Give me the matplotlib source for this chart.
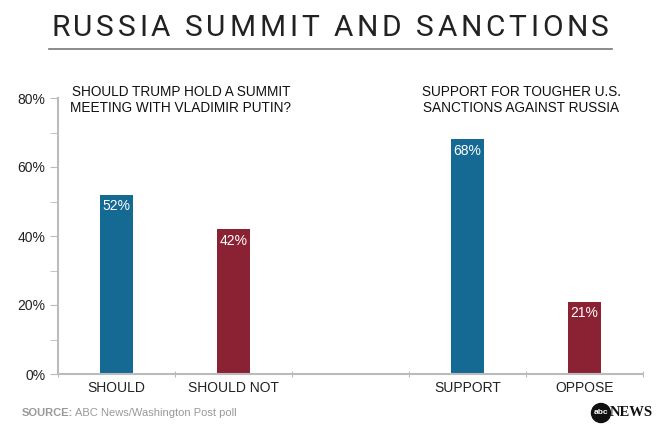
import matplotlib.pyplot as plt
from matplotlib.patches import Ellipse

# data
categories = ["SHOULD", "SHOULD NOT", "", "SUPPORT", "OPPOSE"]
values = [52, 42, None, 68, 21]
bar_colors = ["#156a94", "#8a2234", None, "#156a94", "#8a2234"]
yticks = [0, 20, 40, 60, 80]
ytick_labels = ["0%", "20%", "40%", "60%", "80%"]

title = "RUSSIA SUMMIT AND SANCTIONS"
left_note = "SHOULD TRUMP HOLD A SUMMIT\nMEETING WITH VLADIMIR PUTIN?"
right_note = "SUPPORT FOR TOUGHER U.S.\nSANCTIONS AGAINST RUSSIA"

plt.rcParams["font.family"] = ["Liberation Sans", "DejaVu Sans"]

fig = plt.figure(figsize=(6.6, 4.34), dpi=100)
ax = fig.add_axes([58 / 660, 1 - 374 / 434, (643 - 58) / 660, (374 - 98) / 434])

xs = [i for i, v in enumerate(values) if v is not None]
vals = [values[i] for i in xs]
cols = [bar_colors[i] for i in xs]
bars = ax.bar(xs, vals, width=0.28, color=cols, zorder=2)
for x, v in zip(xs, vals):
    ax.text(x, v - 1.4, f"{v}%", ha="center", va="top", color="white", fontsize=10)

ax.set_xlim(-0.5, len(categories) - 0.5)
ax.set_ylim(0, 80)
ax.set_xticks(range(len(categories)))
ax.set_xticklabels(categories, fontsize=10, color="#222222")
ax.set_xticks([i - 0.5 for i in range(len(categories) + 1)], minor=True)
ax.tick_params(axis="x", which="major", length=0, pad=5)
ax.tick_params(axis="x", which="minor", length=5, direction="inout", color="#aaaaaa")

ax.set_yticks(yticks)
ax.set_yticklabels(ytick_labels, fontsize=10, color="#222222")
ax.set_yticks(range(10, 80, 20), minor=True)
ax.tick_params(axis="y", which="both", length=6, color="#bbbbbb", direction="out")
ax.tick_params(axis="y", which="major", pad=3)

for s in ["top", "right"]:
    ax.spines[s].set_visible(False)
ax.spines["left"].set_color("#bbbbbb")
ax.spines["bottom"].set_color("#bbbbbb")
ax.spines["left"].set_linewidth(1.5)
ax.spines["bottom"].set_linewidth(1.5)

# title with wide letter spacing, placed char by char
fig.canvas.draw()
renderer = fig.canvas.get_renderer()
tx0, tx1 = 51, 609
chars = []
for ch in title:
    t = fig.text(0, 1 - 28.5 / 434, ch, ha="left", va="center", fontsize=21.5,
                 color="#222222", family="Roboto", fontweight="normal")
    chars.append(t)
widths = [t.get_window_extent(renderer).width for t in chars]
gap = (tx1 - tx0 - sum(widths)) / (len(chars) - 1)
xpos = tx0
for t, w in zip(chars, widths):
    t.set_x(xpos / 660)
    xpos += w + gap
fig.add_artist(plt.Line2D([49 / 660, 612 / 660], [1 - 49 / 434] * 2, color="#777777", lw=1.2))

fig.text(181 / 660, 1 - 100 / 434, left_note, ha="center", va="center", fontsize=9.8,
         color="#111111", linespacing=1.25)
fig.text(521 / 660, 1 - 100 / 434, right_note, ha="center", va="center", fontsize=9.8,
         color="#111111", linespacing=1.25)

t = fig.text(22 / 660, 1 - 413 / 434, "SOURCE:", ha="left", va="center", fontsize=8,
             color="#999999", fontweight="bold")
fig.canvas.draw()
bb = t.get_window_extent()
fig.text(bb.x1 / 660 + 0.003, 1 - 413 / 434, "ABC News/Washington Post poll", ha="left",
         va="center", fontsize=8, color="#999999")

# abc news logo
fig.add_artist(Ellipse((601 / 660, 1 - 413 / 434), 19 / 660, 19 / 434,
                       transform=fig.transFigure, color="#111111"))
fig.text(601 / 660, 1 - 413 / 434, "abc", ha="center", va="center", fontsize=6,
         color="white", fontweight="bold")
fig.text(610 / 660, 1 - 413 / 434, "NEWS", ha="left", va="center", fontsize=10.5,
         color="#111111", family="Liberation Serif", fontweight="bold")

fig.savefig("out.png", dpi=100)
